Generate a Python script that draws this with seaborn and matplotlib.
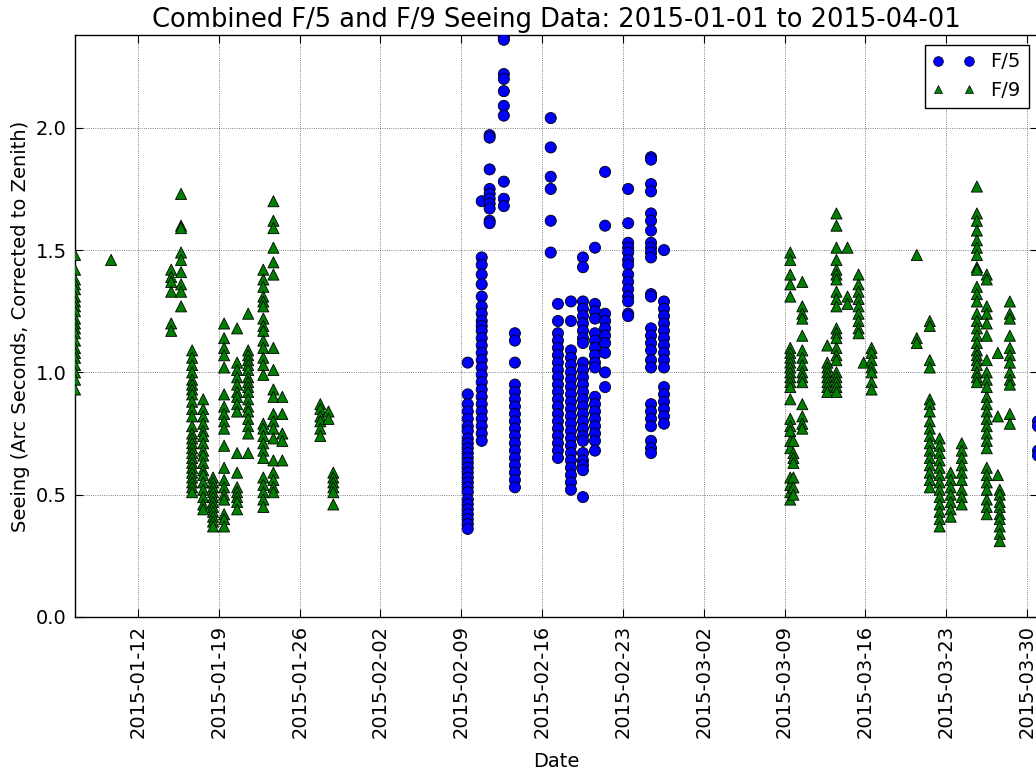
import matplotlib
matplotlib.use("Agg")
import matplotlib.pyplot as plt
import matplotlib.dates as mdates
from matplotlib.lines import Line2D
import seaborn as sns
import pandas as pd

f5_times = [
    "2015-02-09 13:30", "2015-02-10 18:30", "2015-02-11 11:00", "2015-02-12 16:30",
    "2015-02-13 15:30", "2015-02-16 18:00", "2015-02-17 09:00", "2015-02-18 12:00",
    "2015-02-19 13:00", "2015-02-20 14:00", "2015-02-21 11:00", "2015-02-23 11:00",
    "2015-02-25 10:30", "2015-02-26 13:30", "2015-03-30 23:00",
]
f5_seeing = [
    [1.04, 0.91, 0.87, 0.84, 0.81, 0.78, 0.76, 0.73, 0.71, 0.69, 0.67, 0.65, 0.63,
     0.61, 0.59, 0.57, 0.55, 0.53, 0.51, 0.48, 0.46, 0.44, 0.42, 0.40, 0.38, 0.36],
    [1.70, 1.47, 1.44, 1.40, 1.36, 1.31, 1.27, 1.24, 1.21, 1.19, 1.17, 1.14, 1.11,
     1.08, 1.05, 1.02, 0.99, 0.96, 0.93, 0.90, 0.87, 0.84, 0.81, 0.78, 0.75, 0.72],
    [1.97, 1.96, 1.83, 1.75, 1.73, 1.71, 1.69, 1.67, 1.62, 1.61],
    [2.37, 2.36, 2.22, 2.20, 2.15, 2.09, 2.05, 1.78, 1.71, 1.68],
    [1.16, 1.13, 1.04, 0.95, 0.92, 0.89, 0.86, 0.83, 0.80, 0.77, 0.74, 0.71, 0.68,
     0.65, 0.62, 0.59, 0.56, 0.53],
    [2.04, 1.92, 1.80, 1.75, 1.62, 1.49],
    [1.28, 1.21, 1.16, 1.13, 1.10, 1.07, 1.04, 1.01, 0.98, 0.95, 0.92, 0.89, 0.86,
     0.83, 0.80, 0.77, 0.74, 0.71, 0.68, 0.65],
    [1.29, 1.21, 1.09, 1.06, 1.03, 1.00, 0.97, 0.94, 0.91, 0.88, 0.85, 0.82, 0.79,
     0.76, 0.73, 0.70, 0.67, 0.64, 0.61, 0.58, 0.55, 0.52],
    [1.47, 1.43, 1.29, 1.26, 1.23, 1.20, 1.17, 1.14, 1.12, 1.04, 1.01, 0.98, 0.95,
     0.92, 0.89, 0.86, 0.83, 0.80, 0.77, 0.74, 0.72, 0.67, 0.64, 0.62, 0.60, 0.49],
    [1.51, 1.28, 1.25, 1.22, 1.16, 1.13, 1.10, 1.07, 1.04, 1.02, 0.90, 0.87, 0.84,
     0.81, 0.78, 0.75, 0.72, 0.68],
    [1.82, 1.60, 1.24, 1.21, 1.18, 1.15, 1.12, 1.08, 1.00, 0.94],
    [1.75, 1.61, 1.53, 1.51, 1.49, 1.46, 1.44, 1.40, 1.37, 1.34, 1.31, 1.29, 1.24, 1.23],
    [1.88, 1.87, 1.77, 1.74, 1.65, 1.62, 1.58, 1.53, 1.51, 1.49, 1.47, 1.32, 1.31,
     1.18, 1.15, 1.12, 1.09, 1.05, 1.02, 0.87, 0.84, 0.81, 0.78, 0.72, 0.69, 0.67],
    [1.50, 1.29, 1.26, 1.23, 1.20, 1.17, 1.14, 1.11, 1.08, 1.05, 1.02, 0.94, 0.91,
     0.88, 0.85, 0.82, 0.79],
    [0.80, 0.78, 0.68, 0.66],
]

# F/9 observations
f9_times = [
    "2015-01-06 13:00", "2015-01-09 16:00", "2015-01-14 21:00", "2015-01-15 17:30",
    "2015-01-16 16:30", "2015-01-17 15:30", "2015-01-18 12:00", "2015-01-19 11:00",
    "2015-01-20 14:00", "2015-01-21 13:00", "2015-01-22 20:30", "2015-01-23 17:30",
    "2015-01-24 12:00", "2015-01-27 19:00", "2015-01-28 12:00", "2015-01-28 22:00",
    "2015-03-09 12:00", "2015-03-09 18:30", "2015-03-10 13:00", "2015-03-12 17:00",
    "2015-03-13 12:00", "2015-03-14 11:00", "2015-03-15 10:00", "2015-03-15 20:30",
    "2015-03-16 13:00", "2015-03-20 11:00", "2015-03-21 14:00", "2015-03-22 10:30",
    "2015-03-23 09:30", "2015-03-24 08:30", "2015-03-25 16:00", "2015-03-26 12:30",
    "2015-03-27 11:30", "2015-03-27 15:30", "2015-03-28 12:30",
]
f9_seeing = [
    [1.48, 1.42, 1.38, 1.36, 1.34, 1.31, 1.29, 1.27, 1.25, 1.22, 1.20, 1.18, 1.16,
     1.13, 1.10, 1.08, 1.06, 1.03, 1.00, 0.97, 0.93],
    [1.46],
    [1.42, 1.39, 1.37, 1.33, 1.20, 1.17],
    [1.73, 1.60, 1.59, 1.49, 1.46, 1.41, 1.36, 1.33, 1.27],
    [1.09, 1.06, 1.03, 1.00, 0.97, 0.95, 0.93, 0.91, 0.88, 0.85, 0.82, 0.78, 0.75,
     0.73, 0.71, 0.69, 0.67, 0.65, 0.63, 0.61, 0.59, 0.57, 0.55, 0.53, 0.51],
    [0.89, 0.85, 0.82, 0.79, 0.76, 0.74, 0.71, 0.68, 0.66, 0.63, 0.60, 0.58, 0.55,
     0.52, 0.49, 0.46, 0.44],
    [0.57, 0.55, 0.53, 0.51, 0.49, 0.47, 0.45, 0.43, 0.41, 0.39, 0.37],
    [1.20, 1.14, 1.10, 1.07, 1.02, 0.91, 0.86, 0.83, 0.80, 0.77, 0.70, 0.61, 0.56,
     0.53, 0.50, 0.48, 0.42, 0.40, 0.37],
    [1.18, 1.04, 1.01, 0.98, 0.95, 0.92, 0.90, 0.87, 0.84, 0.67, 0.59, 0.53, 0.51,
     0.49, 0.47, 0.44],
    [1.24, 1.09, 1.07, 1.05, 1.03, 1.01, 0.98, 0.96, 0.94, 0.92, 0.89, 0.86, 0.84,
     0.81, 0.78, 0.75, 0.67],
    [1.42, 1.38, 1.35, 1.31, 1.29, 1.27, 1.22, 1.19, 1.17, 1.13, 1.10, 1.06, 1.03,
     0.99, 0.79, 0.77, 0.74, 0.71, 0.68, 0.65, 0.57, 0.54, 0.51, 0.48, 0.45],
    [1.70, 1.62, 1.59, 1.51, 1.45, 1.40, 1.10, 1.01, 0.93, 0.90, 0.83, 0.80, 0.77,
     0.73, 0.64, 0.59, 0.56, 0.53, 0.51],
    [0.90, 0.83, 0.75, 0.72, 0.64],
    [0.87, 0.85, 0.82, 0.80, 0.77, 0.74],
    [0.84, 0.81],
    [0.59, 0.57, 0.55, 0.53, 0.51, 0.46],
    [1.49, 1.46, 1.40, 1.36, 1.31, 1.10, 1.08, 1.06, 1.04, 1.02, 1.00, 0.98, 0.96,
     0.94, 0.89, 0.81, 0.78, 0.76, 0.72, 0.69, 0.57, 0.54, 0.51, 0.48],
    [0.72, 0.67, 0.65, 0.63, 0.57, 0.53, 0.50],
    [1.37, 1.27, 1.24, 1.22, 1.15, 1.09, 1.06, 1.03, 1.00, 0.98, 0.96, 0.87, 0.82,
     0.79, 0.77],
    [1.11, 1.04, 1.02, 1.00, 0.98, 0.96, 0.94, 0.92],
    [1.65, 1.60, 1.51, 1.46, 1.42, 1.40, 1.38, 1.33, 1.30, 1.27, 1.18, 1.16, 1.14,
     1.10, 1.07, 1.05, 1.00, 0.98, 0.96, 0.94, 0.92],
    [1.51, 1.31, 1.28],
    [1.40, 1.36, 1.33, 1.30, 1.27, 1.24, 1.21, 1.18, 1.16],
    [1.04],
    [1.10, 1.08, 1.05, 1.02, 1.00, 0.96, 0.93],
    [1.48, 1.14, 1.12],
    [1.21, 1.19, 1.05, 1.02, 0.89, 0.87, 0.84, 0.80, 0.77, 0.74, 0.71, 0.68, 0.65,
     0.62, 0.59, 0.56, 0.53],
    [0.73, 0.70, 0.67, 0.64, 0.61, 0.58, 0.55, 0.52, 0.49, 0.46, 0.43, 0.40, 0.37],
    [0.59, 0.56, 0.53, 0.50, 0.47, 0.44, 0.41],
    [0.71, 0.68, 0.65, 0.62, 0.59, 0.56, 0.52, 0.49, 0.46],
    [1.76, 1.65, 1.62, 1.58, 1.54, 1.51, 1.48, 1.43, 1.42, 1.35, 1.32, 1.29, 1.24,
     1.21, 1.18, 1.15, 1.12, 1.09, 1.07, 1.05, 1.03, 1.00, 0.98, 0.96],
    [1.40, 1.38, 1.27, 1.24, 1.20, 1.15, 1.05, 1.00, 0.97, 0.94, 0.90, 0.87, 0.84,
     0.81, 0.78, 0.75, 0.72, 0.69, 0.61, 0.58, 0.55, 0.52, 0.48, 0.45, 0.42],
    [1.08, 0.82, 0.58],
    [0.52, 0.50, 0.47, 0.45, 0.42, 0.40, 0.37, 0.34, 0.31],
    [1.29, 1.24, 1.22, 1.15, 1.10, 1.07, 1.04, 1.00, 0.97, 0.95, 0.83, 0.79],
]

rows = []
for label, times, values in [("F/5", f5_times, f5_seeing), ("F/9", f9_times, f9_seeing)]:
    for t, vals in zip(times, values):
        for v in vals:
            rows.append({"date": pd.Timestamp(t), "seeing": v, "inst": label})
df = pd.DataFrame(rows)

plt.rcParams["xtick.direction"] = "in"
plt.rcParams["ytick.direction"] = "in"
plt.rcParams["xtick.top"] = True
plt.rcParams["ytick.right"] = True

fig = plt.figure(figsize=(10.36, 7.76), dpi=100)
ax = fig.add_axes([0.0724, 0.205, 0.930, 0.750])

colors = {"F/5": "blue", "F/9": "green"}
markers = {"F/5": "o", "F/9": "^"}
sns.scatterplot(data=df, x="date", y="seeing", hue="inst", style="inst",
                palette=colors, markers=markers, s=64, edgecolor="black",
                linewidth=0.6, legend=False, ax=ax, zorder=3, clip_on=True)

ax.set_xlim(pd.Timestamp("2015-01-06 13:00"), pd.Timestamp("2015-03-31 00:00"))
ax.set_ylim(0, 2.38)
ax.set_yticks([0.0, 0.5, 1.0, 1.5, 2.0])
ax.yaxis.set_major_formatter(matplotlib.ticker.FormatStrFormatter("%.1f"))
ax.xaxis.set_major_locator(mdates.WeekdayLocator(byweekday=mdates.MO))
ax.xaxis.set_major_formatter(mdates.DateFormatter("%Y-%m-%d"))
plt.setp(ax.get_xticklabels(), rotation=90)
ax.tick_params(labelsize=14, length=6, width=0.8, pad=6)
ax.grid(True, linestyle=":", color="0.35", linewidth=0.6)
for sp in ax.spines.values():
    sp.set_color("black")
    sp.set_linewidth(1.0)

ax.set_title("Combined F/5 and F/9 Seeing Data: 2015-01-01 to 2015-04-01", fontsize=18.5)
ax.set_xlabel("Date", fontsize=14, labelpad=10)
ax.set_ylabel("Seeing (Arc Seconds, Corrected to Zenith)", fontsize=14)

handles = [
    Line2D([], [], marker="o", color="blue", linestyle="none", markersize=7,
           markeredgecolor="black", markeredgewidth=0.5),
    Line2D([], [], marker="^", color="green", linestyle="none", markersize=6,
           markeredgecolor="black", markeredgewidth=0.5),
]
leg = ax.legend(handles, ["F/5", "F/9"], loc="upper right", numpoints=2,
                fontsize=14, fancybox=False, framealpha=1, borderaxespad=0.5,
                handlelength=2.2)
leg.get_frame().set_edgecolor("black")

fig.savefig("out.png", dpi=100)
